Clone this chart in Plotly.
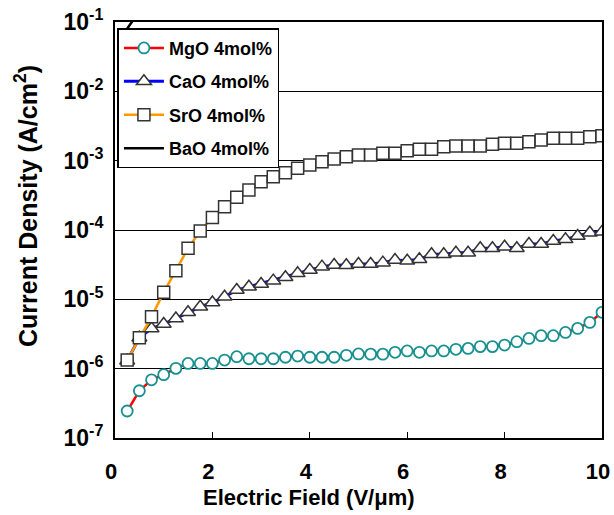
import plotly.graph_objects as go

field = [0.25 * i for i in range(1, 41)]

mgo = [2.45e-7, 4.8e-7, 6.9e-7, 8.2e-7, 1.01e-6, 1.19e-6, 1.19e-6, 1.19e-6, 1.33e-6, 1.49e-6,
       1.39e-6, 1.39e-6, 1.39e-6, 1.46e-6, 1.52e-6, 1.46e-6, 1.46e-6, 1.46e-6, 1.56e-6, 1.63e-6,
       1.62e-6, 1.62e-6, 1.72e-6, 1.80e-6, 1.72e-6, 1.80e-6, 1.80e-6, 1.90e-6, 1.96e-6, 2.08e-6,
       2.08e-6, 2.19e-6, 2.45e-6, 2.73e-6, 2.99e-6, 2.99e-6, 3.33e-6, 3.81e-6, 4.65e-6, 6.5e-6]

cao = [1.3e-6, 2.8e-6, 3.8e-6, 4.4e-6, 5.3e-6, 6.5e-6, 7.8e-6, 9.0e-6, 1.09e-5, 1.36e-5,
       1.52e-5, 1.66e-5, 1.86e-5, 2.08e-5, 2.37e-5, 2.65e-5, 2.96e-5, 3.13e-5, 3.10e-5, 3.23e-5,
       3.23e-5, 3.38e-5, 3.69e-5, 3.60e-5, 3.78e-5, 4.46e-5, 4.46e-5, 4.71e-5, 4.71e-5, 5.44e-5,
       5.44e-5, 5.74e-5, 5.44e-5, 6.28e-5, 6.28e-5, 6.93e-5, 7.33e-5, 8.18e-5, 9.14e-5, 9.4e-5]

sro = [1.33e-6, 2.8e-6, 5.6e-6, 1.26e-5, 2.59e-5, 5.44e-5, 9.66e-5, 1.52e-4, 2.17e-4, 2.96e-4,
       3.77e-4, 4.98e-4, 5.88e-4, 6.72e-4, 7.76e-4, 8.65e-4, 9.66e-4, 1.06e-3, 1.14e-3, 1.21e-3,
       1.21e-3, 1.28e-3, 1.28e-3, 1.39e-3, 1.46e-3, 1.46e-3, 1.59e-3, 1.63e-3, 1.63e-3, 1.63e-3,
       1.72e-3, 1.78e-3, 1.78e-3, 1.88e-3, 1.99e-3, 2.10e-3, 2.10e-3, 2.10e-3, 2.22e-3, 2.29e-3]

bao_field = [0.25, 0.5, 0.75]
bao = [0.08, 0.14, 0.22]

names = ["MgO 4mol%", "CaO 4mol%", "SrO 4mol%", "BaO 4mol%"]
ytick_vals = [1e-7, 1e-6, 1e-5, 1e-4, 1e-3, 1e-2, 1e-1]
ytick_text = ["10<sup>-7</sup>", "10<sup>-6</sup>", "10<sup>-5</sup>", "10<sup>-4</sup>",
              "10<sup>-3</sup>", "10<sup>-2</sup>", "10<sup>-1</sup>"]
xtick_vals = [0, 2, 4, 6, 8, 10]

FONT = "Liberation Sans, Arial, sans-serif"

fig = go.Figure()
fig.add_trace(go.Scatter(
    x=field, y=mgo, name=names[0], mode="lines+markers", legendgroup="a",
    line=dict(color="#ff0000", width=2.5),
    marker=dict(symbol="circle", size=11, color="white", line=dict(color="#16918f", width=1.8)),
))
fig.add_trace(go.Scatter(
    x=field, y=cao, name=names[1], mode="lines+markers", legendgroup="b",
    line=dict(color="#0000ff", width=3),
    marker=dict(symbol="triangle-up", size=13, color="white", line=dict(color="#333333", width=1.5)),
))
fig.add_trace(go.Scatter(
    x=field, y=sro, name=names[2], mode="lines+markers", legendgroup="c",
    line=dict(color="#ff9900", width=2.5),
    marker=dict(symbol="square", size=12, color="white", line=dict(color="#333333", width=1.5)),
))
fig.add_trace(go.Scatter(
    x=bao_field, y=bao, name=names[3], mode="lines", legendgroup="d",
    line=dict(color="#000000", width=2.5, shape="spline"),
))

fig.update_layout(
    width=614, height=515,
    margin=dict(l=115, r=12, t=22, b=77),
    paper_bgcolor="white", plot_bgcolor="white",
    font=dict(family=FONT, color="black"),
    showlegend=True,
    legend=dict(
        x=0.005, y=0.985, xanchor="left", yanchor="top",
        bordercolor="black", borderwidth=1.5, bgcolor="white",
        font=dict(family=FONT, size=18, color="black", weight="bold"),
        traceorder="grouped", tracegroupgap=7, itemwidth=40,
    ),
    xaxis=dict(
        range=[0, 10], tickvals=xtick_vals, ticks="inside", ticklen=6, tickwidth=1.2,
        tickcolor="black", showgrid=False, zeroline=False, automargin=False,
        showline=True, linecolor="black", linewidth=2, mirror=True,
        tickfont=dict(family=FONT, size=22, color="black", weight="bold"),
        ticklabelstandoff=13, ticklabeloverflow="allow", ticklabelshift=-4,
    ),
    yaxis=dict(
        type="log", range=[-7, -1], tickvals=ytick_vals, ticktext=ytick_text,
        ticks="", showgrid=True, gridcolor="black", gridwidth=1.2, zeroline=False,
        automargin=False, ticklabeloverflow="allow",
        showline=True, linecolor="black", linewidth=2, mirror=True,
        tickfont=dict(family=FONT, size=23, color="black", weight="bold"),
        ticklabelstandoff=5,
    ),
    annotations=[
        dict(text="Electric Field (V/\u03bcm)", x=309, y=497, xref="paper", yref="paper",
             showarrow=False, font=dict(family=FONT, size=22, color="black", weight="bold")),
        dict(text="Current Density (A/cm<sup>2</sup>)", x=26, y=206, textangle=-90,
             xref="paper", yref="paper", showarrow=False,
             font=dict(family=FONT, size=25, color="black", weight="bold")),
    ],
)

# convert pixel positions of annotations into paper coords
pw = 614 - 115 - 12
ph = 515 - 22 - 77
for ann in fig.layout.annotations:
    px, py = ann.x, ann.y
    ann.x = (px - 115) / pw
    ann.y = 1 - (py - 22) / ph
    ann.xanchor = "center"
    ann.yanchor = "middle"

fig.write_html("out.html")
